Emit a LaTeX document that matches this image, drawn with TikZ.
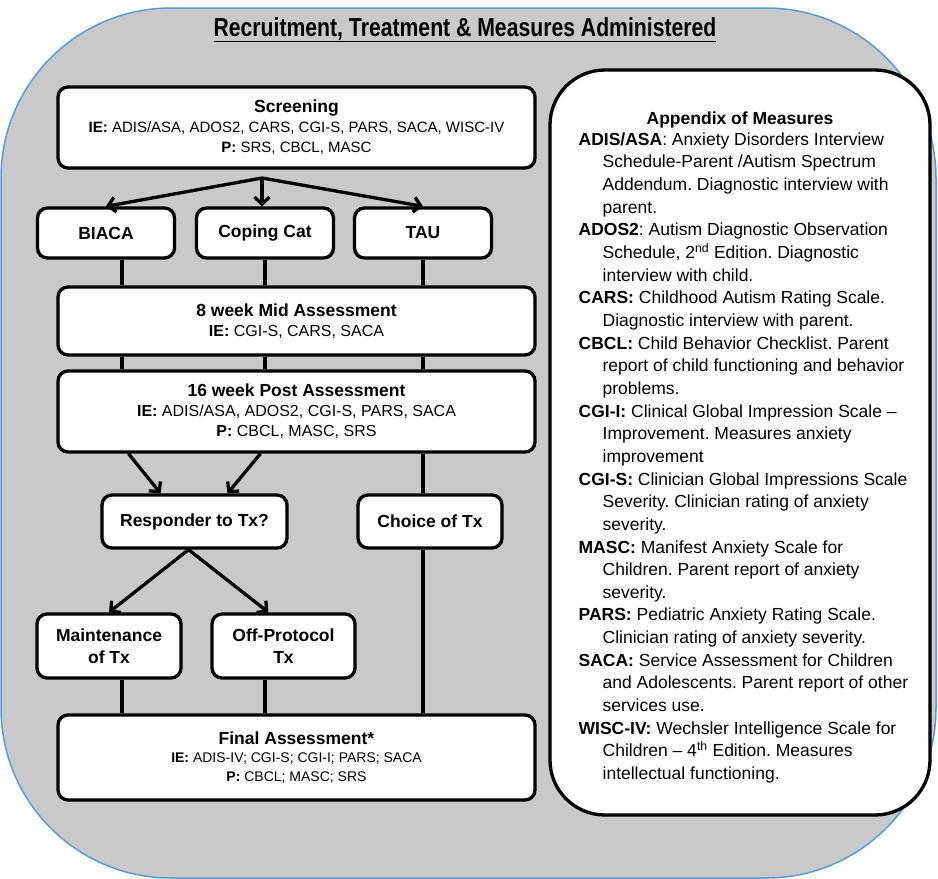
\documentclass[tikz,border=0pt]{standalone}
\usepackage{fontspec}
\setmainfont{Liberation Sans}
\usetikzlibrary{positioning, arrows.meta}
\frenchspacing

\definecolor{panelgray}{RGB}{201,201,201}
\definecolor{panelblue}{RGB}{91,155,213}
\newcommand{\ind}{\hspace*{24pt}}
\newcommand{\stagehead}[1]{{\fontsize{17.5}{20}\selectfont\bfseries #1}}

\begin{document}
\begin{tikzpicture}
[x=1pt, y=-1pt, on grid, line width=3.3pt, >={Straight Barb[length=7pt,width=15pt]},
 box/.style={draw, fill=white, rounded corners=10pt, inner sep=0pt, align=center, font=\fontsize{17.5}{22}\selectfont\bfseries},
 stage/.style={box, minimum width=477pt, font=\fontsize{16}{20}\selectfont},
 tx/.style={box, minimum width=137pt, minimum height=50pt},
 choicebox/.style={box, minimum height=53pt}]

\useasboundingbox (0,0) rectangle (938,879);
\path[fill=panelgray, draw=panelblue, line width=1.5pt, rounded corners=170pt] (1,8) rectangle (936,878);

\node[font=\fontsize{26}{28}\selectfont\bfseries, anchor=base] (title) at (465,36)
	{\scalebox{0.815}[1]{\underline{Recruitment, Treatment \& Measures Administered}}};

\node[stage, minimum height=81pt, font=\fontsize{15}{20}\selectfont] (screen) at (296.5,127.5)
	{\stagehead{Screening}\\ \textbf{IE:} ADIS/ASA, ADOS2, CARS, CGI-S, PARS, SACA, WISC-IV\\ \textbf{P:} SRS, CBCL, MASC};
\node[tx, below left=105.5pt and 190.5pt of screen] (biaca) {BIACA};
\node[tx, right=159pt of biaca] (coping) {Coping Cat};
\node[tx, right=158pt of coping] (tau) {TAU};
\node[stage, minimum height=68pt, below=193.5pt of screen] (mid)
	{\stagehead{8 week Mid Assessment}\\ \textbf{IE:} CGI-S, CARS, SACA};
\node[stage, minimum height=81pt, below=90.5pt of mid] (post)
	{\stagehead{16 week Post Assessment}\\ \textbf{IE:} ADIS/ASA, ADOS2, CGI-S, PARS, SACA\\ \textbf{P:} CBCL, MASC, SRS};
\node[choicebox, minimum width=185pt, below left=110pt and 102pt of post] (resp) {Responder to Tx?};
\node[choicebox, minimum width=144pt, right=235.5pt of resp] (choice) {Choice of Tx};
\node[box, minimum width=144pt, minimum height=64pt, below left=124.5pt and 85.5pt of resp] (maint) {Maintenance\\of Tx};
\node[box, minimum width=143pt, minimum height=64pt, right=174.5pt of maint] (offp) {Off-Protocol\\Tx};
\node[stage, minimum height=85pt, font=\fontsize{14}{18.5}\selectfont, below=346pt of post] (final)
	{\stagehead{Final Assessment*}\\ \textbf{IE:} ADIS-IV; CGI-S; CGI-I; PARS; SACA\\ \textbf{P:} CBCL; MASC; SRS};

\node[draw, fill=white, rounded corners=55pt, minimum width=380pt, minimum height=745pt] (appx) at (740,442.5) {};
\node[font=\fontsize{17.5}{20}\selectfont\bfseries, below=38pt of appx.north] (appxtitle) {Appendix of Measures};
\node[anchor=north west, inner sep=0pt, align=left, font=\fontsize{17.5}{22.65}\selectfont] (appxbody) at (577,131)
	{\textbf{ADIS/ASA}: Anxiety Disorders Interview\\
	\ind Schedule-Parent /Autism Spectrum\\
	\ind Addendum. Diagnostic interview with\\
	\ind parent.\\
	\textbf{ADOS2}: Autism Diagnostic Observation\\
	\ind Schedule, 2\textsuperscript{nd} Edition. Diagnostic\\
	\ind interview with child.\\
	\textbf{CARS:} Childhood Autism Rating Scale.\\
	\ind Diagnostic interview with parent.\\
	\textbf{CBCL:} Child Behavior Checklist. Parent\\
	\ind report of child functioning and behavior\\
	\ind problems.\\
	\textbf{CGI-I:} Clinical Global Impression Scale –\\
	\ind Improvement. Measures anxiety\\
	\ind improvement\\
	\textbf{CGI-S:} Clinician Global Impressions Scale\\
	\ind Severity. Clinician rating of anxiety\\
	\ind severity.\\
	\textbf{MASC:} Manifest Anxiety Scale for\\
	\ind Children. Parent report of anxiety\\
	\ind severity.\\
	\textbf{PARS:} Pediatric Anxiety Rating Scale.\\
	\ind Clinician rating of anxiety severity.\\
	\textbf{SACA:} Service Assessment for Children\\
	\ind and Adolescents. Parent report of other\\
	\ind services use.\\
	\textbf{WISC-IV:} Wechsler Intelligence Scale for\\
	\ind Children – 4\textsuperscript{th} Edition. Measures\\
	\ind intellectual functioning.};

\coordinate (split) at (262,178);
\coordinate (colA) at (122,0);
\coordinate (colB) at (265,0);
\coordinate (colC) at (423,0);

\path[->]
	(split) edge (biaca.north)
		edge (split |- coping.north)
		edge (tau.north);
\path
	(biaca.south -| colA) edge (mid.north -| colA)
	(coping.south -| colB) edge (mid.north -| colB)
	(tau.south -| colC) edge (mid.north -| colC)
	(mid.south -| colA) edge (post.north -| colA)
	(mid.south -| colB) edge (post.north -| colB)
	(mid.south -| colC) edge (post.north -| colC);
\path[->]
	([xshift=-168pt]post.south) edge ([xshift=-34pt]resp.north)
	([xshift=-36pt]post.south) edge ([xshift=33pt]resp.north)
	([xshift=-6pt]resp.south) edge (maint.north)
		edge ([xshift=-15pt]offp.north);
\path
	(post.south -| colC) edge (choice.north -| colC)
	(choice.south -| colC) edge (final.north -| colC)
	(maint.south -| colA) edge (final.north -| colA)
	(offp.south -| colB) edge (final.north -| colB);
\end{tikzpicture}
\end{document}
